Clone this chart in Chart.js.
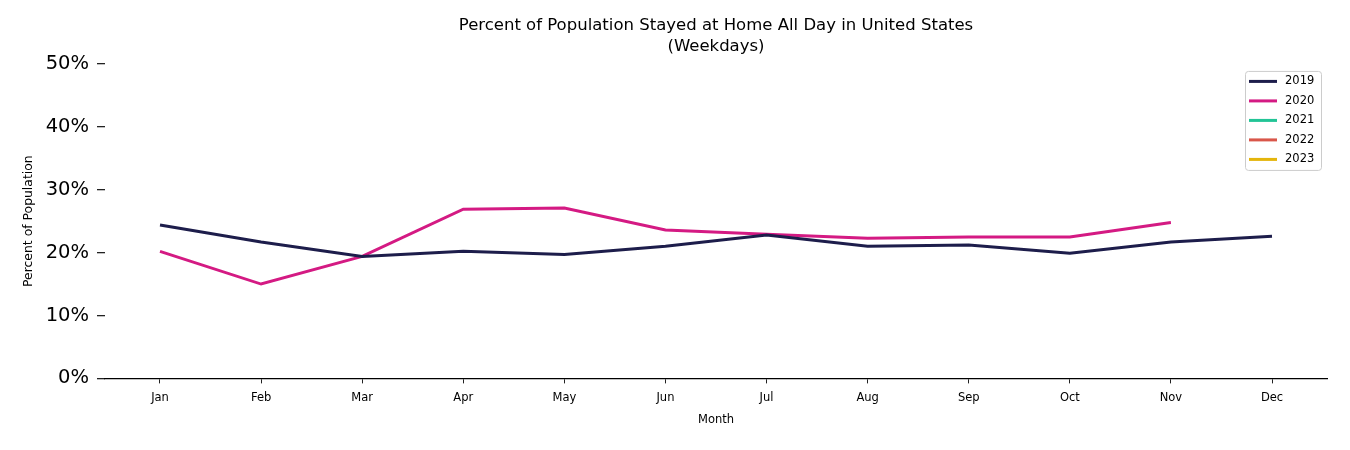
<!DOCTYPE html>
<html>
<head>
<meta charset="utf-8">
<script src="https://cdn.jsdelivr.net/npm/chart.js@4.4.1/dist/chart.umd.min.js"></script>
<style>
  html, body { margin: 0; padding: 0; background: #fff; }
  #wrap { width: 1350px; height: 450px; position: relative; }
</style>
</head>
<body>
<div id="wrap"><canvas id="c"></canvas></div>
<script>
const months = ['Jan','Feb','Mar','Apr','May','Jun','Jul','Aug','Sep','Oct','Nov','Dec'];
const years = ['2019','2020','2021','2022','2023'];
const values2019 = [24.4, 21.7, 19.4, 20.2, 19.7, 21.0, 22.8, 21.0, 21.2, 19.9, 21.7, 22.6];
const values2020 = [20.2, 15.0, 19.4, 26.9, 27.1, 23.6, 22.9, 22.3, 22.5, 22.5, 24.8];
const values2021 = [];
const values2022 = [];
const values2023 = [];
const yTicks = [0, 10, 20, 30, 40, 50];
const colors = ['#1d1d4b', '#d41a83', '#22c496', '#d9564a', '#e4b50c'];
const titleLines = ['Percent of Population Stayed at Home All Day in United States', '(Weekdays)'];

Chart.defaults.font.family = "'DejaVu Sans', sans-serif";
Chart.defaults.color = '#000';

const series = [values2019, values2020, values2021, values2022, values2023];
const datasets = series.map((vals, k) => ({
  label: years[k],
  data: vals.map((v, i) => ({ x: i, y: v })),
  borderColor: colors[k],
  backgroundColor: colors[k],
  borderWidth: 3,
  pointRadius: 0,
  pointHoverRadius: 0,
  tension: 0,
  fill: false
}));

const legendPlugin = {
  id: 'innerLegend',
  afterDatasetsDraw(chart) {
    const ctx = chart.ctx;
    const area = chart.chartArea;
    const ds = chart.data.datasets;
    const boxW = 76, rowH = 19.5;
    const boxH = (ds.length - 1) * rowH + 21;
    const x0 = area.right - 6 - boxW;
    const y0 = area.top + 7;
    ctx.save();
    ctx.beginPath();
    if (ctx.roundRect) ctx.roundRect(x0 + 0.5, y0 + 0.5, boxW, boxH, 3);
    else ctx.rect(x0 + 0.5, y0 + 0.5, boxW, boxH);
    ctx.fillStyle = 'rgba(255,255,255,0.8)';
    ctx.fill();
    ctx.strokeStyle = '#cccccc';
    ctx.lineWidth = 1;
    ctx.stroke();
    ctx.font = "11.5px 'DejaVu Sans', sans-serif";
    ctx.textBaseline = 'middle';
    ctx.textAlign = 'left';
    ds.forEach((d, i) => {
      const y = y0 + 10.5 + i * rowH;
      ctx.beginPath();
      ctx.moveTo(x0 + 4, y);
      ctx.lineTo(x0 + 32, y);
      ctx.strokeStyle = d.borderColor;
      ctx.lineWidth = 3;
      ctx.stroke();
      ctx.fillStyle = '#000';
      ctx.fillText(d.label, x0 + 40, y);
    });
    ctx.restore();
  }
};

new Chart(document.getElementById('c'), {
  type: 'line',
  data: { datasets },
  plugins: [legendPlugin],
  options: {
    responsive: true,
    maintainAspectRatio: false,
    animation: false,
    layout: { padding: { left: 17, right: 23, top: 0, bottom: 19 } },
    plugins: {
      legend: { display: false },
      tooltip: { enabled: false },
      title: {
        display: true,
        fullSize: false,
        text: titleLines,
        color: '#000',
        font: { size: 16.5, weight: 'normal', lineHeight: 1.27 },
        padding: { top: 15, bottom: 7 }
      }
    },
    scales: {
      x: {
        type: 'linear',
        min: -0.544,
        max: 11.544,
        afterBuildTicks(scale) { scale.ticks = months.map((m, i) => ({ value: i })); },
        afterFit(scale) { scale.height = 52.6; },
        ticks: {
          autoSkip: false,
          maxRotation: 0,
          padding: 8,
          font: { size: 11.5 },
          color: '#000',
          callback: (v) => months[v]
        },
        grid: { display: true, drawOnChartArea: false, drawTicks: true, tickLength: 5, color: '#222', lineWidth: 1 },
        border: { display: true, color: '#000', width: 1.3 },
        title: { display: true, text: 'Month', font: { size: 11.5 }, color: '#000', padding: { top: 4, bottom: 4 } }
      },
      y: {
        min: 0,
        max: 50,
        afterBuildTicks(scale) { scale.ticks = yTicks.map(v => ({ value: v })); },
        afterFit(scale) { scale.width = 88; },
        ticks: {
          padding: 8,
          font: { size: 19.5 },
          color: '#000',
          callback: (v) => v + '%'
        },
        grid: { display: true, drawOnChartArea: false, drawTicks: true, tickLength: 8, color: '#222', lineWidth: 1.3 },
        border: { display: false },
        title: { display: true, text: 'Percent of Population', font: { size: 12.4 }, color: '#000', padding: { top: 4, bottom: 4 } }
      }
    }
  }
});
</script>
</body>
</html>
